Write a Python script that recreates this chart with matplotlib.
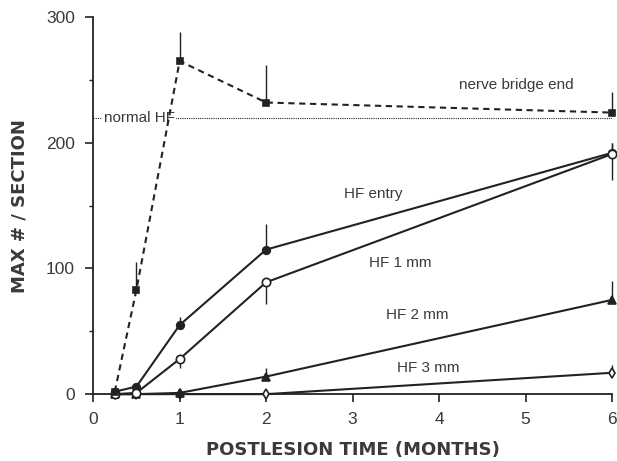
import matplotlib
matplotlib.use("Agg")
import matplotlib.pyplot as plt
import numpy as np

plt.rcParams['font.family'] = ['Liberation Sans', 'DejaVu Sans']

# ---- data ----
months = [0.25, 0.5, 1, 2, 6]
bridge_end = [2, 83, 265, 232, 224]
bridge_err = [0, 22, 23, 30, 16]
hf_entry = [2, 6, 55, 115, 192]
hf_entry_err = [0, 0, 6, 20, 8]
hf_1mm = [0, 1, 28, 89, 191]
hf_1mm_err = [0, 0, 7, 17, 21]
hf_2mm = [0, 0, 1, 14, 75]
hf_2mm_err = [0, 0, 0, 7, 15]
hf_3mm = [0, 0, 0, 0, 17]
hf_3mm_err = [0, 0, 0, 0, 6]
normal_hf = 220

xticks = [0, 1, 2, 3, 4, 5, 6]
yticks = [0, 100, 200, 300]

ink = '#222222'
txt = '#3a3a3a'

fig = plt.figure(figsize=(6.17, 4.61), dpi=100)
ax = fig.add_axes([0.151, 0.145, 0.841, 0.818])

ax.axhline(normal_hf, xmin=0, xmax=1, color=ink, ls=(0, (1, 1)), lw=0.8, zorder=1)

def series(y, err, ls, marker, mfc, ms, up=True, z=3):
    ax.plot(months, y, ls=ls, color=ink, lw=1.5, marker=marker, mfc=mfc,
            mec=ink, ms=ms, mew=1.2, clip_on=False, zorder=z)
    e = np.array(err)
    yerr = [np.zeros_like(e), e] if up else [e, np.zeros_like(e)]
    ax.errorbar(months, y, yerr=yerr, fmt='none', ecolor=ink, elinewidth=1.0,
                capsize=0, clip_on=False, zorder=2)

series(hf_3mm, hf_3mm_err, '-', 'd', 'white', 5.5, z=3)
series(hf_2mm, hf_2mm_err, '-', '^', ink, 5.5, z=3.1)
series(hf_entry, hf_entry_err, '-', 'o', ink, 5.5, z=3.2)
series(hf_1mm, hf_1mm_err, '-', 'o', 'white', 6, up=False, z=3.3)
ax.errorbar([6], [hf_1mm[-1]], yerr=[[0], [9]], fmt='none', ecolor=ink,
            elinewidth=1.0, capsize=0, clip_on=False, zorder=2)
series(bridge_end, bridge_err, (0, (3, 2.2)), 's', ink, 4.5, z=3.4)

ax.set_xlim(0, 6)
ax.set_ylim(0, 300)
ax.set_xticks(xticks)
ax.set_yticks(yticks)
ax.set_yticks([50, 150, 250], minor=True)
ax.tick_params(axis='both', labelsize=12.5, colors=ink, labelcolor=txt,
               width=1.2, length=6, pad=7)
ax.tick_params(axis='y', which='minor', length=3, width=1.0, colors=ink)
for s in ['top', 'right']:
    ax.spines[s].set_visible(False)
for s in ['left', 'bottom']:
    ax.spines[s].set_linewidth(1.3)
    ax.spines[s].set_color(ink)

ax.set_xlabel('POSTLESION TIME (MONTHS)', fontsize=13, fontweight='bold',
              color=txt, labelpad=10, family=['DejaVu Sans'])
ax.set_ylabel('MAX # / SECTION', fontsize=13, fontweight='bold',
              color=txt, labelpad=13, family=['DejaVu Sans'])

fs = 11
ax.text(4.89, 246, 'nerve bridge end', fontsize=fs, color=txt, ha='center', va='center')
ax.text(0.53, 220, 'normal HF', fontsize=fs, color=txt, ha='center', va='center',
        bbox=dict(facecolor='white', edgecolor='none', pad=1.0), zorder=1.5)
ax.text(3.24, 159, 'HF entry', fontsize=fs, color=txt, ha='center', va='center')
ax.text(3.55, 104, 'HF 1 mm', fontsize=fs, color=txt, ha='center', va='center')
ax.text(3.75, 63, 'HF 2 mm', fontsize=fs, color=txt, ha='center', va='center')
ax.text(3.87, 21, 'HF 3 mm', fontsize=fs, color=txt, ha='center', va='center')

fig.savefig('out.png', dpi=100)
